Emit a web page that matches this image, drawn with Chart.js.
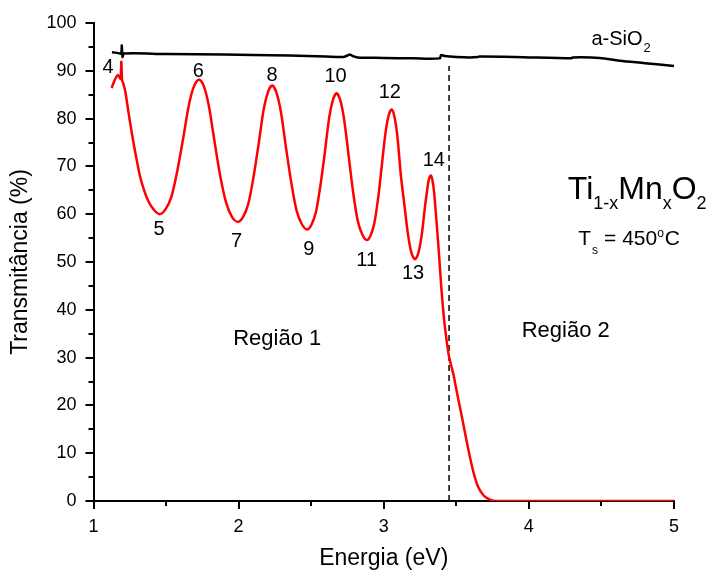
<!DOCTYPE html>
<html lang="pt">
<head>
<meta charset="utf-8">
<title>Transmitância Ti1-xMnxO2</title>
<script src="https://cdn.jsdelivr.net/npm/chart.js@4.4.1/dist/chart.umd.min.js"></script>
<style>
    html, body { margin: 0; padding: 0; background: #fff; }
    #caixa { width: 711px; height: 572px; position: relative; }
</style>
</head>
<body>
<div id="caixa"><canvas id="grafico"></canvas></div>
<script>
// Filme Ti1-xMnxO2 (curva vermelha), uma linha por meio período
const energiaFilme = [
    1.125, 1.140, 1.155, 1.168, 1.180, 1.187, 1.192, 1.197, 1.205,
    1.220, 1.240, 1.265, 1.290, 1.320, 1.350, 1.380, 1.414, 1.455,
    1.496, 1.537, 1.577, 1.618, 1.659, 1.694, 1.727,
    1.759, 1.794, 1.834, 1.874, 1.915, 1.955, 1.995,
    2.030, 2.066, 2.101, 2.137, 2.172, 2.203, 2.231,
    2.260, 2.291, 2.327, 2.364, 2.400, 2.436, 2.472,
    2.502, 2.533, 2.563, 2.594, 2.624, 2.651, 2.675,
    2.700, 2.727, 2.759, 2.790, 2.821, 2.853, 2.884,
    2.910, 2.935, 2.961, 2.986, 3.012, 3.034, 3.054,
    3.073, 3.094, 3.118, 3.142, 3.166, 3.190, 3.214,
    3.231, 3.247, 3.264, 3.280, 3.297, 3.311, 3.324,
    3.336, 3.348, 3.359, 3.371, 3.382, 3.398, 3.415, 3.432, 3.448, 3.465, 3.480, 3.501,
    3.525, 3.547, 3.570, 3.593, 3.620, 3.650, 3.690, 3.731, 3.777, 4.000, 4.500, 5.000
];
const transFilme = [
    86.4, 87.6, 88.6, 89.1, 88.6, 88.3, 91.9, 88.0, 87.4,
    85.5, 81.5, 76.8, 72.6, 68.0, 64.9, 62.6, 61.0, 60.0,
    61.0, 63.7, 69.0, 75.9, 83.1, 86.9, 88.2,
    86.9, 82.8, 75.2, 67.9, 62.3, 59.4, 58.4,
    59.4, 62.1, 67.5, 74.5, 81.8, 85.6, 86.9,
    85.5, 81.5, 73.8, 66.4, 60.7, 57.9, 56.8,
    57.8, 60.5, 65.9, 72.9, 80.2, 84.0, 85.3,
    83.9, 79.8, 72.0, 64.4, 58.6, 55.7, 54.6,
    55.6, 58.1, 63.3, 70.0, 77.0, 80.7, 81.9,
    80.5, 76.3, 68.1, 62.0, 56.0, 52.0, 50.6,
    51.2, 53.0, 56.2, 60.5, 64.6, 67.3, 68.1,
    67.0, 64.3, 60.2, 55.6, 51.1, 44.1, 38.2, 33.8, 30.5, 28.3, 26.5, 23.2,
    19.6, 16.3, 12.7, 9.3, 5.8, 3.0, 1.1, 0.3, 0.0, 0.0, 0.0, 0.0
];

// Substrato a-SiO2 (curva preta)
const energiaSubstrato = [
    1.127, 1.170, 1.190, 1.195, 1.200, 1.210, 1.500, 1.900, 2.100, 2.350,
    2.600, 2.720, 2.750, 2.766, 2.785, 2.820, 3.000, 3.200, 3.386, 3.395,
    3.420, 3.500, 3.593, 3.650, 3.662, 3.900, 4.295, 4.300, 4.488, 4.626,
    4.800, 5.000
];
const transSubstrato = [
    93.9, 93.7, 93.6, 95.3, 92.9, 93.6, 93.5, 93.4, 93.3, 93.2,
    93.0, 92.9, 93.2, 93.4, 93.1, 92.8, 92.7, 92.6, 92.6, 93.3,
    93.1, 92.9, 92.8, 92.9, 93.0, 92.9, 92.6, 92.8, 92.7, 92.1,
    91.6, 91.0
];

// Linha tracejada separando as regiões
const energiaCorte = [3.45, 3.45];
const transCorte = [0, 91];

const ticksX = [1, 2, 3, 4, 5];
const ticksY = [0, 10, 20, 30, 40, 50, 60, 70, 80, 90, 100];
const ticksMenoresX = [1.5, 2.5, 3.5, 4.5];
const ticksMenoresY = [5, 15, 25, 35, 45, 55, 65, 75, 85, 95];

// Ordem dos máximos e mínimos
const ordens = ['4', '6', '8', '10', '12', '14', '5', '7', '9', '11', '13'];
const ordensEnergia = [1.100, 1.722, 2.231, 2.668, 3.042, 3.345, 1.451, 1.986, 2.484, 2.882, 3.202];
const ordensTrans = [90.6, 89.8, 89.0, 88.8, 85.5, 71.2, 56.8, 54.2, 52.7, 50.3, 47.5];

const FONTE = 'Liberation Sans, Arial, Helvetica, sans-serif';
Chart.defaults.font.family = FONTE;
Chart.defaults.color = '#000';

function pontos(xs, ys) {
    return xs.map((x, i) => ({ x: x, y: ys[i] }));
}

// escreve texto com sub/sobrescritos, peça por peça
function textoRico(ctx, x, y, pecas) {
    let cx = x;
    pecas.forEach(p => {
        cx += p.gap || 0;
        ctx.font = `${p.size}px ${FONTE}`;
        ctx.fillText(p.t, cx, y + (p.dy || 0));
        cx += ctx.measureText(p.t).width;
    });
}

const ticksMenores = {
    id: 'ticksMenores',
    beforeDatasetsDraw(chart) {
        const { ctx, chartArea, scales: { x, y } } = chart;
        ctx.save();
        ctx.strokeStyle = '#000';
        ctx.lineWidth = 2;
        ctx.beginPath();
        ticksMenoresY.forEach(v => {
            const py = Math.round(y.getPixelForValue(v));
            ctx.moveTo(chartArea.left - 5, py);
            ctx.lineTo(chartArea.left, py);
        });
        ticksMenoresX.forEach(v => {
            const px = Math.round(x.getPixelForValue(v));
            ctx.moveTo(px, chartArea.bottom);
            ctx.lineTo(px, chartArea.bottom + 5);
        });
        ctx.stroke();
        ctx.restore();
    }
};

const anotacoes = {
    id: 'anotacoes',
    afterDatasetsDraw(chart) {
        const { ctx, scales: { x, y } } = chart;
        ctx.save();
        ctx.fillStyle = '#000';

        // números das franjas
        ctx.font = `20px ${FONTE}`;
        ctx.textAlign = 'center';
        ctx.textBaseline = 'middle';
        ordens.forEach((t, i) => {
            ctx.fillText(t, x.getPixelForValue(ordensEnergia[i]), y.getPixelForValue(ordensTrans[i]));
        });

        ctx.textBaseline = 'alphabetic';
        ctx.font = `22px ${FONTE}`;
        ctx.fillText('Região 1', x.getPixelForValue(2.266), y.getPixelForValue(32.6));
        ctx.fillText('Região 2', x.getPixelForValue(4.254), y.getPixelForValue(34.4));

        ctx.textAlign = 'left';
        textoRico(ctx, x.getPixelForValue(4.431), y.getPixelForValue(95.4), [
            { t: 'a-SiO', size: 20 },
            { t: '2', size: 13, dy: 7, gap: 1 }
        ]);
        textoRico(ctx, x.getPixelForValue(4.268), y.getPixelForValue(63.1), [
            { t: 'Ti', size: 32 },
            { t: '1-x', size: 18, dy: 10 },
            { t: 'Mn', size: 32 },
            { t: 'x', size: 18, dy: 10 },
            { t: 'O', size: 32 },
            { t: '2', size: 18, dy: 10 }
        ]);
        textoRico(ctx, x.getPixelForValue(4.340), y.getPixelForValue(53.6), [
            { t: 'T', size: 21 },
            { t: 's', size: 12, dy: 9, gap: 1 },
            { t: '= 450', size: 21, gap: 6 },
            { t: 'o', size: 12, dy: -8 },
            { t: 'C', size: 21, gap: 1 }
        ]);
        ctx.restore();
    }
};

const eixo = {
    border: { display: true, color: '#000', width: 2 },
    grid: { drawOnChartArea: false, drawTicks: true, tickLength: 8, color: '#000', lineWidth: 2 }
};

new Chart(document.getElementById('grafico'), {
    type: 'scatter',
    data: {
        datasets: [
            {
                label: 'a-SiO2',
                data: pontos(energiaSubstrato, transSubstrato),
                showLine: true,
                borderColor: '#000',
                borderWidth: 2.5,
                pointRadius: 0,
                tension: 0.3
            },
            {
                label: 'Ti1-xMnxO2',
                data: pontos(energiaFilme, transFilme),
                showLine: true,
                borderColor: '#ff0000',
                borderWidth: 2.5,
                pointRadius: 0,
                tension: 0.3
            },
            {
                label: 'limite',
                data: pontos(energiaCorte, transCorte),
                showLine: true,
                borderColor: '#000',
                borderWidth: 1.5,
                borderDash: [6, 4],
                pointRadius: 0
            }
        ]
    },
    options: {
        responsive: true,
        maintainAspectRatio: false,
        animation: false,
        layout: { padding: { top: 23, right: 37, left: 0, bottom: 0 } },
        plugins: {
            legend: { display: false },
            tooltip: { enabled: false }
        },
        scales: {
            x: {
                type: 'linear',
                min: 1,
                max: 5,
                ...eixo,
                afterBuildTicks: s => { s.ticks = ticksX.map(v => ({ value: v })); },
                afterFit: s => { s.height = 71; },
                ticks: { font: { size: 18 }, padding: 7, maxRotation: 0 },
                title: { display: true, text: 'Energia (eV)', font: { size: 23 }, padding: 0 }
            },
            y: {
                type: 'linear',
                min: 0,
                max: 100,
                ...eixo,
                afterBuildTicks: s => { s.ticks = ticksY.map(v => ({ value: v })); },
                afterFit: s => { s.width = 93.5; },
                ticks: { font: { size: 18 }, padding: 9 },
                title: { display: true, text: 'Transmitância (%)', font: { size: 23 }, padding: { top: 7, bottom: 0 } }
            }
        }
    },
    plugins: [ticksMenores, anotacoes]
});
</script>
</body>
</html>
